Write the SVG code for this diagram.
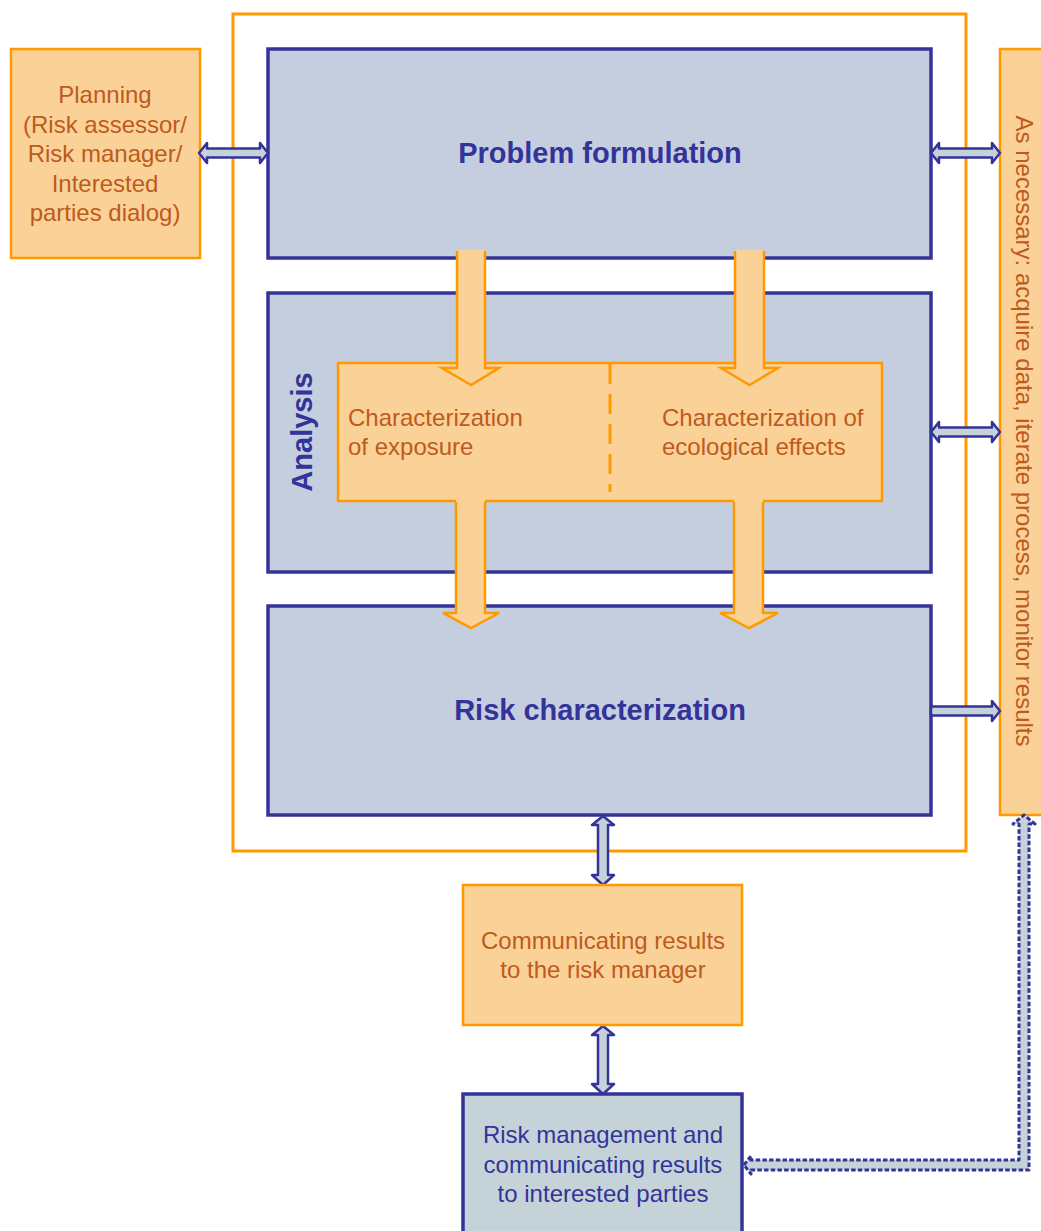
<svg xmlns="http://www.w3.org/2000/svg" width="1041" height="1231" viewBox="0 0 1041 1231">
<style>
.org{fill:#FAD298;stroke:#FF9900;stroke-width:2.5}
.blu{fill:#C5CEDF;stroke:#333399;stroke-width:3.5}
.frame{fill:none;stroke:#FF9900;stroke-width:3}
.ta{font-family:"Liberation Sans",Arial,sans-serif;font-size:24px;fill:#BF5A1E}
.tb{font-family:"Liberation Sans",Arial,sans-serif;font-size:24px;fill:#333399}
.tt{font-family:"Liberation Sans",Arial,sans-serif;font-size:29px;font-weight:bold;fill:#333399}
.conn{fill:#C5D3D8;stroke:#333399;stroke-width:2.5;stroke-linejoin:round}
.bigfill{fill:#FAD298;stroke:none}
.bigline{fill:none;stroke:#FF9900;stroke-width:2.5;stroke-linejoin:miter}
</style>
<rect width="1041" height="1231" fill="#FFFFFF"/>
<rect id="frame" class="frame" x="233" y="14" width="733" height="837"/>

<g id="planning">
<rect class="org" x="11" y="49" width="189" height="209"/>
<text class="ta" text-anchor="middle" x="105" y="103">Planning</text>
<text class="ta" text-anchor="middle" x="105" y="133">(Risk assessor/</text>
<text class="ta" text-anchor="middle" x="105" y="162">Risk manager/</text>
<text class="ta" text-anchor="middle" x="105" y="192">Interested</text>
<text class="ta" text-anchor="middle" x="105" y="221">parties dialog)</text>
</g>

<g id="as-necessary">
<rect class="org" x="1000" y="49" width="50" height="766"/>
<text class="ta" text-anchor="middle" transform="translate(1016,431) rotate(90)">As necessary: acquire data, iterate process, monitor results</text>
</g>

<g id="problem-formulation">
<rect class="blu" x="268" y="49" width="663" height="209"/>
<text class="tt" text-anchor="middle" x="600" y="163">Problem formulation</text>
</g>

<g id="analysis">
<rect class="blu" x="268" y="293" width="663" height="279"/>
<text class="tt" text-anchor="middle" transform="translate(312,432) rotate(-90)">Analysis</text>
</g>

<g id="risk-characterization">
<rect class="blu" x="268" y="606" width="663" height="209"/>
<text class="tt" text-anchor="middle" x="600" y="720">Risk characterization</text>
</g>

<g id="characterization">
<rect class="org" x="338" y="363" width="544" height="138"/>
<line x1="610" y1="364" x2="610" y2="492" stroke="#FF9900" stroke-width="3" stroke-dasharray="20 10"/>
<text class="ta" x="348" y="426">Characterization</text>
<text class="ta" x="348" y="455">of exposure</text>
<text class="ta" x="662" y="426">Characterization of</text>
<text class="ta" x="662" y="455">ecological effects</text>
</g>

<g id="connectors">
<!-- top big arrows -->
<path class="bigfill" d="M457,250 L485,250 L485,368 L499,368 L471,385 L442,368 L457,368 Z"/>
<path class="bigline" d="M457,251 L457,368 L442,368 L471,385 L499,368 L485,368 L485,251"/>
<path class="bigfill" d="M735,250 L764,250 L764,368 L778,368 L749.5,385 L721,368 L735,368 Z"/>
<path class="bigline" d="M735,251 L735,368 L721,368 L749.5,385 L778,368 L764,368 L764,251"/>
<!-- lower big arrows -->
<path class="bigfill" d="M456,498 L485,498 L485,613 L499,613 L471,628 L443,613 L456,613 Z"/>
<path class="bigline" d="M456,502 L456,613 L443,613 L471,628 L499,613 L485,613 L485,502"/>
<path class="bigfill" d="M734,498 L763,498 L763,613 L778,613 L749,628 L720,613 L734,613 Z"/>
<path class="bigline" d="M734,502 L734,613 L720,613 L749,628 L778,613 L763,613 L763,502"/>

<!-- hollow double arrows -->
<path class="conn" d="M199,153 L207,143 L207,148.5 L260,148.5 L260,143 L268,153 L260,163 L260,157.5 L207,157.5 L207,163 Z"/>
<path class="conn" d="M931,153 L939,143 L939,148.5 L992,148.5 L992,143 L1000,153 L992,163 L992,157.5 L939,157.5 L939,163 Z"/>
<path class="conn" d="M931,432 L939,422 L939,427.5 L992,427.5 L992,422 L1000,432 L992,442 L992,436.5 L939,436.5 L939,442 Z"/>
<path class="conn" d="M931,706.5 L992,706.5 L992,701 L1000,711 L992,721 L992,715.5 L931,715.5 Z"/>
<path class="conn" d="M603,816 L614,825 L608,825 L608,875 L614,875 L603,885 L592,875 L598,875 L598,825 L592,825 Z"/>
<path class="conn" d="M603,1026 L614,1035 L608,1035 L608,1084 L614,1084 L603,1094 L592,1084 L598,1084 L598,1035 L592,1035 Z"/>
<!-- dotted connector -->
<path d="M744,1165 L751,1156 L751,1160 L1019,1160 L1019,824 L1013,824 L1024,815 L1035,824 L1029,824 L1029,1170 L751,1170 L751,1174 Z" fill="#C5D3D8" stroke="#333399" stroke-width="3" stroke-dasharray="4.5 2.2" stroke-linejoin="round"/>
</g>

<g id="communicating">
<rect class="org" x="463" y="885" width="279" height="140"/>
<text class="ta" text-anchor="middle" x="603" y="949">Communicating results</text>
<text class="ta" text-anchor="middle" x="603" y="978">to the risk manager</text>
</g>

<g id="risk-management">
<rect x="463" y="1094" width="279" height="150" fill="#C5D3D9" stroke="#333399" stroke-width="3.5"/>
<text class="tb" text-anchor="middle" x="603" y="1143">Risk management and</text>
<text class="tb" text-anchor="middle" x="603" y="1173">communicating results</text>
<text class="tb" text-anchor="middle" x="603" y="1202">to interested parties</text>
</g>
</svg>
